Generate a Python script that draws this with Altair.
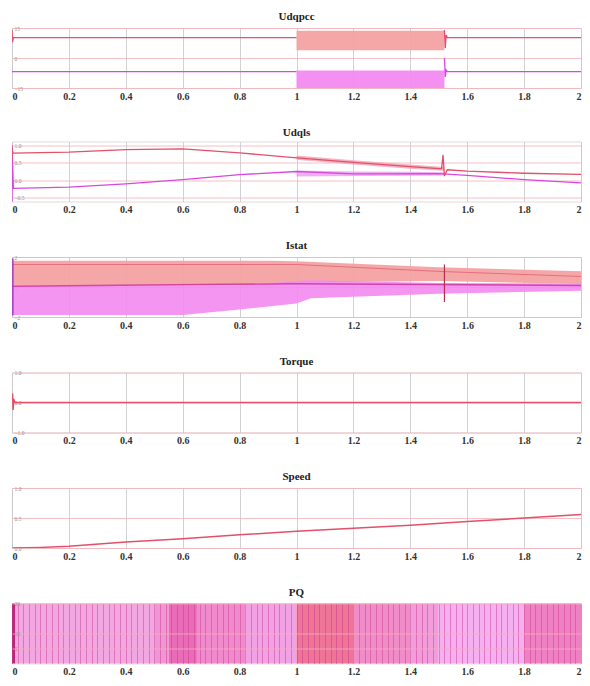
import altair as alt
import pandas as pd

# ---------------- data ----------------
T_TICKS = [0, 0.2, 0.4, 0.6, 0.8, 1.0, 1.2, 1.4, 1.6, 1.8, 2.0]

# Panel 1: Udqpcc
P1_DOMAIN = [-15, 15]
P1_TICKS = [-15, 0, 15]
P1_UD_A_T = [0, 0.002, 0.005, 1.0]
P1_UD_A_V = [14, 8, 10.2, 10.2]
P1_UD_B_T = [1.52, 1.523, 1.526, 1.53, 2.0]
P1_UD_B_V = [14.0, 5.0, 11.5, 10.2, 10.2]
P1_UQ_A_T = [0, 1.0]
P1_UQ_A_V = [-6.8, -6.8]
P1_UQ_B_T = [1.52, 1.523, 1.526, 1.53, 2.0]
P1_UQ_B_V = [0.0, -9.5, -6.0, -6.8, -6.8]
P1_UD_BAND_T = [1.0, 1.52]
P1_UD_BAND_LO = [3.9, 3.9]
P1_UD_BAND_HI = [13.6, 13.6]
P1_UQ_BAND_T = [1.0, 1.52]
P1_UQ_BAND_LO = [-15, -15]
P1_UQ_BAND_HI = [-6.3, -6.3]

# Panel 2: Udqls
P2_DOMAIN = [-0.6, 1.1]
P2_TICKS = [-0.5, 0, 0.5, 1]
P2_D_T = [0, 0, 0.003, 0.2, 0.4, 0.6, 0.8, 0.97, 1.2, 1.4, 1.5, 1.51, 1.515, 1.52, 1.53, 1.6, 1.8, 2.0]
P2_D_V = [0.55, 0.95, 0.77, 0.80, 0.87, 0.89, 0.78, 0.66, 0.51, 0.39, 0.33, 0.33, 0.72, 0.12, 0.30, 0.26, 0.20, 0.17]
P2_Q_T = [0, 0, 0.005, 0.2, 0.4, 0.6, 0.8, 1.0, 1.2, 1.5, 1.6, 1.8, 2.0]
P2_Q_V = [-0.6, 1.0, -0.23, -0.19, -0.10, 0.02, 0.16, 0.25, 0.18, 0.19, 0.14, 0.02, -0.07]
P2_D_BAND_T = [1.0, 1.2, 1.4, 1.52]
P2_D_BAND_LO = [0.58, 0.45, 0.33, 0.27]
P2_D_BAND_HI = [0.70, 0.57, 0.45, 0.38]
P2_Q_BAND_T = [1.0, 1.2, 1.4, 1.52]
P2_Q_BAND_LO = [0.11, 0.12, 0.13, 0.14]
P2_Q_BAND_HI = [0.28, 0.25, 0.24, 0.23]

# Panel 3: Istat
P3_DOMAIN = [-2, 2]
P3_TICKS = [-2, 0, 2]
P3_D_BAND_T = [0, 0.9, 1.0, 1.5, 2.0]
P3_D_BAND_LO = [0.1, 0.1, 0.3, 0.4, 0.2]
P3_D_BAND_HI = [1.75, 1.75, 1.72, 1.32, 1.05]
P3_Q_BAND_T = [0, 0.6, 0.8, 1.0, 1.05, 1.5, 2.0]
P3_Q_BAND_LO = [-1.86, -1.86, -1.5, -1.1, -0.75, -0.45, -0.25]
P3_Q_BAND_HI = [0.1, 0.1, 0.12, 0.4, 0.45, 0.26, 0.24]
P3_D_PEAK_T = [0, 1.0, 1.5, 2.0]
P3_D_PEAK_V = [1.5, 1.5, 1.04, 0.7]
P3_Q_MID_T = [0, 1.0, 2.0]
P3_Q_MID_V = [0.05, 0.22, 0.1]
P3_SPIKE_T = [1.52, 1.52]
P3_SPIKE_V = [1.5, -1.0]
P3_START_T = [0.003, 0.003]
P3_START_V = [1.9, -1.9]

# Panel 4: Torque
P4_DOMAIN = [-1, 1]
P4_TICKS = [-1, 0, 1]
P4_T = [0, 0.002, 0.004, 0.006, 0.01, 2.0]
P4_V = [0, 0.3, -0.25, 0.12, 0, 0]

# Panel 5: Speed
P5_DOMAIN = [0, 1]
P5_TICKS = [0, 0.5, 1]
P5_T = [0, 0.1, 0.2, 0.4, 0.6, 0.8, 1.0, 1.2, 1.4, 1.6, 1.8, 2.0]
P5_V = [0, 0.01, 0.03, 0.10, 0.155, 0.22, 0.28, 0.33, 0.38, 0.44, 0.50, 0.56]

# Panel 6: PQ
P6_DOMAIN = [0, 20]
P6_TICKS = [5, 10, 20]
P6_T0 = [0.0, 0.012, 0.5, 0.55, 0.65, 0.82, 1.0, 1.2, 1.4, 1.5, 1.8]
P6_T1 = [0.012, 0.5, 0.55, 0.65, 0.82, 1.0, 1.2, 1.4, 1.5, 1.8, 2.0]
P6_LO = [0] * 11
P6_HI = [20] * 11
P6_COLOR = ["#b8287c", "#f2a6e2", "#f096d6", "#ea6cb8", "#f08acc", "#f2a2e4",
            "#ee7498", "#f08cc8", "#f29cdc", "#f6b0f2", "#f080c4"]

TITLES = ["Udqpcc", "Udqls", "Istat", "Torque", "Speed", "PQ"]

# ---------------- style ----------------
RED = "#e2506a"
MAG = "#d848e0"
RED_FILL = "#f4a2a2"
MAG_FILL = "#f38af0"
W, H = 569, 60
SERIF = "Liberation Serif"


def x_enc(stripes=False):
    if stripes:
        vals = [round(k * 0.02, 2) for k in range(101)]
        axis = alt.Axis(values=vals, title=None, grid=True, gridColor="#c8388c",
                        gridOpacity=0.45, gridWidth=1, domain=False, ticks=False,
                        labelExpr="(round(datum.value*100) % 20 == 0) ? format(datum.value, '~g') : ''",
                        labelOverlap=False, labelFont=SERIF, labelFontWeight="bold",
                        labelFontSize=10, labelColor="#333", labelPadding=3, zindex=1)
    else:
        axis = alt.Axis(values=T_TICKS, format="~g", title=None, grid=True,
                        gridColor="#c6c6cc", gridWidth=0.8, domain=False, ticks=False,
                        labelFont=SERIF, labelFontWeight="bold", labelFontSize=10,
                        labelColor="#333", labelPadding=3)
    return alt.X("t:Q", scale=alt.Scale(domain=[0, 2], nice=False, zero=False), axis=axis)


def y_enc(field, domain, ticks, z=0):
    return alt.Y(field, scale=alt.Scale(domain=domain, nice=False, zero=False),
                 axis=alt.Axis(values=ticks, title=None, grid=True, gridColor="#f2b0b8",
                               gridWidth=0.8, domain=False, ticks=False, tickSize=0,
                               labelFontSize=5.5, labelFont=SERIF, labelColor="#a08a8a",
                               labelAlign="left", labelPadding=-2,
                               minExtent=0, maxExtent=0, zindex=z))


def line(t, v, color, domain, ticks, width=1.3, opacity=1.0):
    df = pd.DataFrame({"t": t, "v": v, "i": list(range(len(t)))})
    return alt.Chart(df).mark_line(color=color, strokeWidth=width, opacity=opacity, clip=True).encode(
        x=x_enc(), y=y_enc("v:Q", domain, ticks), order="i:Q")


def band(t, lo, hi, color, domain, ticks, opacity=0.95):
    df = pd.DataFrame({"t": t, "lo": lo, "hi": hi})
    return alt.Chart(df).mark_area(color=color, opacity=opacity, clip=True).encode(
        x=x_enc(), y=y_enc("lo:Q", domain, ticks), y2="hi:Q")


def titled(layer, text):
    return layer.properties(width=W, height=H, title=alt.TitleParams(
        text, font=SERIF, fontSize=11, fontWeight="bold", color="#222", offset=4))


# Panel 1
d, k = P1_DOMAIN, P1_TICKS
p1 = alt.layer(
    band(P1_UD_BAND_T, P1_UD_BAND_LO, P1_UD_BAND_HI, RED_FILL, d, k),
    band(P1_UQ_BAND_T, P1_UQ_BAND_LO, P1_UQ_BAND_HI, MAG_FILL, d, k),
    line(P1_UD_A_T, P1_UD_A_V, RED, d, k),
    line(P1_UD_B_T, P1_UD_B_V, RED, d, k),
    line(P1_UQ_A_T, P1_UQ_A_V, MAG, d, k),
    line(P1_UQ_B_T, P1_UQ_B_V, MAG, d, k),
)

# Panel 2
d, k = P2_DOMAIN, P2_TICKS
p2 = alt.layer(
    band(P2_D_BAND_T, P2_D_BAND_LO, P2_D_BAND_HI, "#f2a0b4", d, k, 0.8),
    band(P2_Q_BAND_T, P2_Q_BAND_LO, P2_Q_BAND_HI, "#ee9cf0", d, k, 0.8),
    line(P2_Q_T, P2_Q_V, MAG, d, k),
    line(P2_D_T, P2_D_V, RED, d, k),
)

# Panel 3
d, k = P3_DOMAIN, P3_TICKS
p3 = alt.layer(
    band(P3_D_BAND_T, P3_D_BAND_LO, P3_D_BAND_HI, RED_FILL, d, k),
    band(P3_Q_BAND_T, P3_Q_BAND_LO, P3_Q_BAND_HI, MAG_FILL, d, k, 0.9),
    line(P3_D_PEAK_T, P3_D_PEAK_V, "#d84a60", d, k, 1.0, 0.6),
    line(P3_Q_MID_T, P3_Q_MID_V, "#c8309c", d, k, 1.4, 0.8),
    line(P3_SPIKE_T, P3_SPIKE_V, "#b03050", d, k, 1.2),
    line(P3_START_T, P3_START_V, "#a040c0", d, k, 1.5),
)

# Panel 4
p4 = line(P4_T, P4_V, RED, P4_DOMAIN, P4_TICKS, 1.5)

# Panel 5
p5 = line(P5_T, P5_V, RED, P5_DOMAIN, P5_TICKS, 1.5)

# Panel 6
pq_df = pd.DataFrame({"t": P6_T0, "t1": P6_T1, "lo": P6_LO, "hi": P6_HI, "c": P6_COLOR})
p6 = alt.Chart(pq_df).mark_rect().encode(
    x=x_enc(stripes=True), x2="t1:Q",
    y=y_enc("lo:Q", P6_DOMAIN, P6_TICKS, z=1), y2="hi:Q",
    color=alt.Color("c:N", scale=None))

panels = [p1, p2, p3, p4, p5, p6]
chart = alt.vconcat(*[titled(p, t) for p, t in zip(panels, TITLES)], spacing=23.5).properties(
    padding={"left": 3, "top": 2, "right": 0, "bottom": 0}
).configure_view(stroke="#e46878", strokeWidth=1.5).configure(background="white")

chart.save("out.html", embed_options={"renderer": "svg", "actions": False})
